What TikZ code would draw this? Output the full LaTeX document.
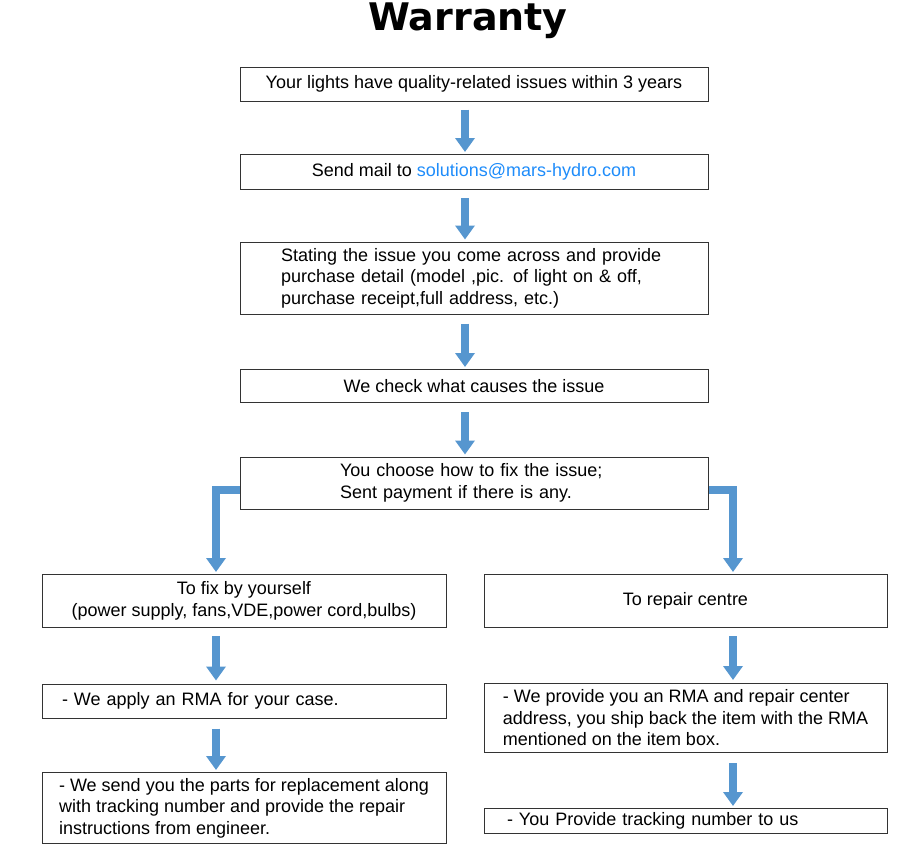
\documentclass[tikz,border=0pt]{standalone}
\usepackage{fontspec}
\setmainfont{Liberation Sans}
\newfontfamily\titlefont{DejaVu Sans}
\usepackage{xcolor}
\usetikzlibrary{arrows.meta,positioning,calc}
\definecolor{flowblue}{RGB}{86,150,207}
\definecolor{linkblue}{RGB}{30,140,250}

\begin{document}
\begin{tikzpicture}[x=1pt,y=-1pt,
  box/.style={draw=black!80,line width=1pt,inner sep=2pt,
    font=\fontsize{18}{21.5}\selectfont},
  lbox/.style={box,align=left},
  flow/.style={draw=flowblue,line width=8pt,line join=miter,
    -{Triangle[width=19pt,length=14pt]}}]
\useasboundingbox (0,0) rectangle (916,846);
\node[font=\titlefont\bfseries\fontsize{38}{40}\selectfont] (title) at (468,21) {Warranty};
\node[box,minimum width=468pt,minimum height=34pt] (issue) at (474,84)
  {Your lights have quality-related issues within 3 years};
\node[box,minimum width=468pt,minimum height=35pt] (mail) at (474,172)
  {Send mail to \textcolor{linkblue}{solutions@mars-hydro.com}};
\node[lbox,text width=386pt,inner xsep=41pt,minimum height=72pt] (detail) at (474,278)
  {Stating the issue you come across and provide\\
   purchase detail (model ,pic. of light on \& off,\\
   purchase receipt,full address, etc.)};
\node[box,minimum width=468pt,minimum height=33pt] (check) at (474,386)
  {We check what causes the issue};
\node[lbox,text width=268pt,inner xsep=100pt,minimum height=52pt] (choose) at (474,483)
  {You choose how to fix the issue;\\ Sent payment if there is any.};
\node[box,align=center,minimum width=404pt,minimum height=53pt] (self) at (244,601)
  {To fix by yourself\\ (power supply, fans,VDE,power cord,bulbs)};
\node[box,minimum width=403pt,minimum height=53pt] (centre) at (685.5,601)
  {To repair centre};
\node[lbox,text width=364pt,inner xsep=20pt,minimum height=34pt] (rmaself) at (244,701)
  {- We apply an RMA for your case.};
\node[lbox,minimum width=403pt,minimum height=69pt] (rmacentre) at (685.5,718)
  {- We provide you an RMA and repair center\\
   address, you ship back the item with the RMA\\
   mentioned on the item box.};
\node[lbox,minimum width=404pt,minimum height=71pt] (parts) at (244,808)
  {- We send you the parts for replacement along\\
   with tracking number and provide the repair\\
   instructions from engineer.};
\node[lbox,text width=357pt,inner xsep=23pt,minimum height=25pt] (track) at (685.5,821)
  {- You Provide tracking number to us};
% main column
\draw[flow,shorten <=8pt,shorten >=2pt] ([xshift=-9pt]issue.south) -- ([xshift=-9pt]mail.north);
\draw[flow,shorten <=8pt,shorten >=2pt] ([xshift=-9pt]mail.south) -- ([xshift=-9pt]detail.north);
\draw[flow,shorten <=9pt,shorten >=2pt] ([xshift=-9pt]detail.south) -- ([xshift=-9pt]check.north);
\draw[flow,shorten <=9pt,shorten >=2pt] ([xshift=-9pt]check.south) -- ([xshift=-9pt]choose.north);
% split
\draw[flow,shorten >=2pt] ([yshift=-7pt]choose.west) -| ([xshift=-28pt]self.north);
\draw[flow,shorten >=2pt] ([yshift=-7pt]choose.east) -| ([xshift=47.5pt]centre.north);
% left column
\draw[flow,shorten <=8pt,shorten >=3pt] ([xshift=-28pt]self.south) -- ([xshift=-28pt]rmaself.north);
\draw[flow,shorten <=10pt,shorten >=2pt] ([xshift=-28pt]rmaself.south) -- ([xshift=-28pt]parts.north);
% right column
\draw[flow,shorten <=8pt,shorten >=3pt] ([xshift=47.5pt]centre.south) -- ([xshift=47.5pt]rmacentre.north);
\draw[flow,shorten <=10pt,shorten >=2pt] ([xshift=47.5pt]rmacentre.south) -- ([xshift=47.5pt]track.north);
\end{tikzpicture}
\end{document}
